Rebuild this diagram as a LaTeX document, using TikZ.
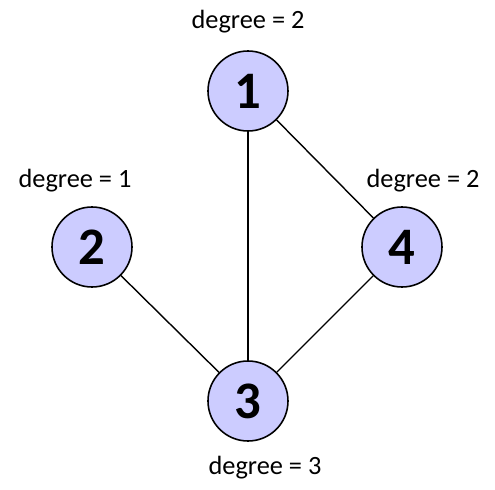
\documentclass[tikz,border=0pt]{standalone}
\usepackage{fontspec}
\setmainfont{Carlito}
\tikzset{
	knoten/.style={circle, draw=black, line width=0.9pt, fill=blue!20, minimum size=1.6cm, inner sep=0pt, font=\fontsize{30}{33}\selectfont\bfseries},
	grad/.style={font=\fontsize{15}{18}\selectfont},
	kante/.style={draw=black, line width=0.8pt}
}
\begin{document}
\begin{tikzpicture}
	\useasboundingbox (0,0) rectangle (9.9,9.78);

	%Knoten
	\node [knoten] (n1) at (4.96,7.96) {1};
	\node [knoten] (n2) at (1.84,4.84) {2};
	\node [knoten] (n3) at (4.96,1.76) {3};
	\node [knoten] (n4) at (8.04,4.84) {4};

	%Kanten
	\draw [kante] (n1) -- (n3);
	\draw [kante] (n1) -- (n4);
	\draw [kante] (n2) -- (n3);
	\draw [kante] (n3) -- (n4);

	%Grad der Knoten
	\node [grad] (g1) at (4.96,9.34) {degree = 2};
	\node [grad] (g2) at (1.50,6.16) {degree = 1};
	\node [grad] (g3) at (5.30,0.42) {degree = 3};
	\node [grad] (g4) at (8.46,6.16) {degree = 2};
\end{tikzpicture}
\end{document}
